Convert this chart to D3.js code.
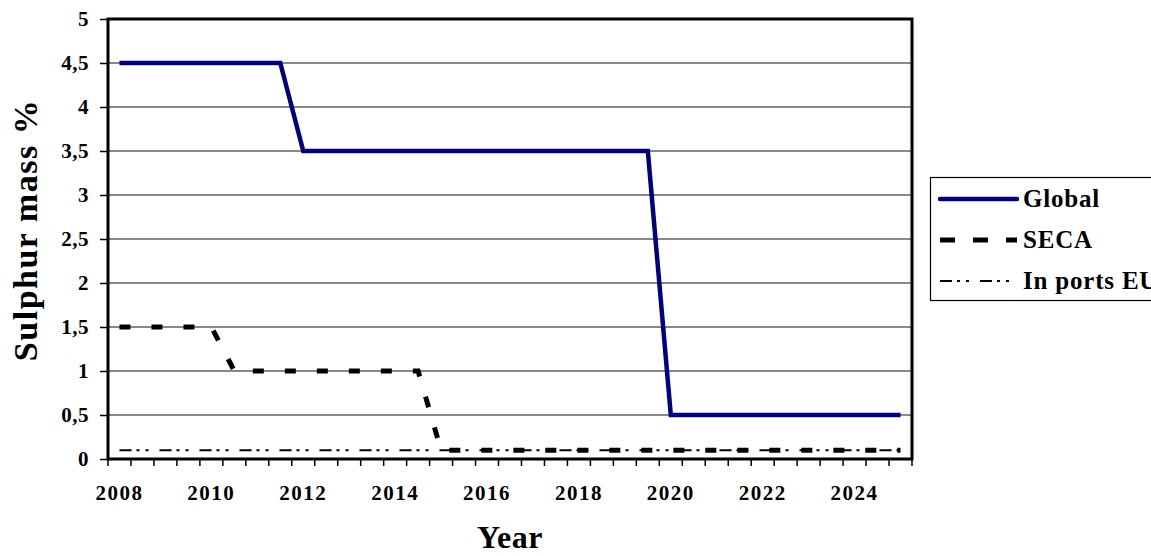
<!DOCTYPE html>
<html>
<head>
<meta charset="utf-8">
<script src="https://cdn.jsdelivr.net/npm/d3@7"></script>
<style>
  html, body { margin: 0; padding: 0; background: #fff; }
  svg { display: block; font-family: 'Liberation Serif', 'Times New Roman', serif; font-weight: bold; }
</style>
</head>
<body>
<div id="main"></div>
<script>
!(function () {
  'use strict';

  // data: half-year categories
  const years = [
    2008, 2008.5, 2009, 2009.5, 2010, 2010.5, 2011, 2011.5, 2012, 2012.5,
    2013, 2013.5, 2014, 2014.5, 2015, 2015.5, 2016, 2016.5, 2017, 2017.5,
    2018, 2018.5, 2019, 2019.5, 2020, 2020.5, 2021, 2021.5, 2022, 2022.5,
    2023, 2023.5, 2024, 2024.5, 2025
  ];
  const globalLimit = [
    4.5, 4.5, 4.5, 4.5, 4.5, 4.5, 4.5, 4.5, 3.5, 3.5,
    3.5, 3.5, 3.5, 3.5, 3.5, 3.5, 3.5, 3.5, 3.5, 3.5,
    3.5, 3.5, 3.5, 3.5, 0.5, 0.5, 0.5, 0.5, 0.5, 0.5,
    0.5, 0.5, 0.5, 0.5, 0.5
  ];
  const secaLimit = [
    1.5, 1.5, 1.5, 1.5, 1.5, 1, 1, 1, 1, 1,
    1, 1, 1, 1, 0.1, 0.1, 0.1, 0.1, 0.1, 0.1,
    0.1, 0.1, 0.1, 0.1, 0.1, 0.1, 0.1, 0.1, 0.1, 0.1,
    0.1, 0.1, 0.1, 0.1, 0.1
  ];
  const portsEuLimit = [
    0.1, 0.1, 0.1, 0.1, 0.1, 0.1, 0.1, 0.1, 0.1, 0.1,
    0.1, 0.1, 0.1, 0.1, 0.1, 0.1, 0.1, 0.1, 0.1, 0.1,
    0.1, 0.1, 0.1, 0.1, 0.1, 0.1, 0.1, 0.1, 0.1, 0.1,
    0.1, 0.1, 0.1, 0.1, 0.1
  ];
  const xTickLabels = [2008, 2010, 2012, 2014, 2016, 2018, 2020, 2022, 2024];
  const yTicks = [0, 0.5, 1, 1.5, 2, 2.5, 3, 3.5, 4, 4.5, 5];

  const series = [
    { name: 'Global', values: globalLimit, color: '#000080', width: 4.5, dash: null },
    { name: 'SECA', values: secaLimit, color: '#000', width: 5, dash: '11,21' },
    { name: 'In ports EU', values: portsEuLimit, color: '#000', width: 2, dash: '12,5,3,6,3,11' }
  ];

  // configuration
  const canvas = {
    width: 1151,
    height: 556,
    plot: { left: 108, right: 912, top: 19, bottom: 459 }
  };
  const p = canvas.plot;

  const svg = d3.select('#main').append('svg')
    .attr('width', canvas.width)
    .attr('height', canvas.height);

  const xScale = d3.scaleBand()
    .domain(years)
    .range([p.left, p.right])
    .padding(0);
  const yScale = d3.scaleLinear()
    .domain([0, 5])
    .range([p.bottom, p.top]);
  const xc = d => xScale(d) + xScale.bandwidth() / 2;
  const fmt = v => String(v).replace('.', ',');

  // gridlines
  svg.append('g')
    .selectAll('line')
    .data(yTicks.filter(v => v > 0 && v < 5))
    .join('line')
    .attr('x1', p.left).attr('x2', p.right)
    .attr('y1', d => yScale(d)).attr('y2', d => yScale(d))
    .attr('stroke', '#111').attr('stroke-width', 1);

  // y axis
  const yAxis = svg.append('g')
    .attr('transform', 'translate(' + p.left + ',0)')
    .call(d3.axisLeft(yScale).tickValues(yTicks).tickSize(8).tickPadding(11).tickFormat(fmt));
  yAxis.select('.domain').remove();
  yAxis.selectAll('line').attr('stroke', '#000').attr('stroke-width', 1.5);
  yAxis.selectAll('text')
    .attr('font-family', "'Liberation Serif', serif")
    .attr('font-weight', 'bold')
    .attr('font-size', 21)
    .attr('letter-spacing', 0.5)
    .attr('fill', '#000');

  // x axis ticks at category boundaries
  const boundaries = years.map(d => xScale(d)).concat([p.right]);
  svg.append('g')
    .selectAll('line')
    .data(boundaries)
    .join('line')
    .attr('x1', d => d).attr('x2', d => d)
    .attr('y1', p.bottom).attr('y2', p.bottom + 7)
    .attr('stroke', '#000').attr('stroke-width', 1.5);
  svg.append('g')
    .selectAll('text')
    .data(xTickLabels)
    .join('text')
    .attr('x', d => xc(d))
    .attr('y', 500)
    .attr('text-anchor', 'middle')
    .attr('font-size', 21)
    .attr('letter-spacing', 1.5)
    .text(d => d);

  // lines
  const line = vals => d3.line()
    .x((v, i) => xc(years[i]))
    .y(v => yScale(v))(vals);

  series.slice().reverse().forEach(s => {
    svg.append('path')
      .attr('d', line(s.values))
      .attr('fill', 'none')
      .attr('stroke', s.color)
      .attr('stroke-width', s.width)
      .attr('stroke-dasharray', s.dash)
      .attr('stroke-linejoin', 'miter');
  });

  // frame
  svg.append('rect')
    .attr('x', p.left).attr('y', p.top)
    .attr('width', p.right - p.left).attr('height', p.bottom - p.top)
    .attr('fill', 'none').attr('stroke', '#000').attr('stroke-width', 3);

  // axis titles
  svg.append('text')
    .attr('transform', 'translate(37,230) rotate(-90)')
    .attr('text-anchor', 'middle')
    .attr('font-size', 34)
    .attr('letter-spacing', 1.5)
    .text('Sulphur mass %');
  svg.append('text')
    .attr('x', (p.left + p.right) / 2)
    .attr('y', 548)
    .attr('text-anchor', 'middle')
    .attr('font-size', 32)
    .attr('letter-spacing', 0.5)
    .text('Year');

  // legend
  const legend = svg.append('g').attr('transform', 'translate(930,177)');
  legend.append('rect')
    .attr('x', 0.5).attr('y', 0.5)
    .attr('width', 240).attr('height', 123)
    .attr('fill', '#fff').attr('stroke', '#000').attr('stroke-width', 1.2);
  const item = legend.selectAll('g.item')
    .data(series)
    .join('g')
    .attr('class', 'item')
    .attr('transform', (d, i) => 'translate(0,' + (22 + i * 41) + ')');
  item.append('line')
    .attr('x1', 10).attr('x2', 87)
    .attr('stroke', d => d.color)
    .attr('stroke-width', d => d.width)
    .attr('stroke-dasharray', (d, i) => i === 1 ? '15,18' : d.dash)
    .attr('stroke-linecap', (d, i) => i === 0 ? 'round' : 'butt');
  item.append('text')
    .attr('x', 93)
    .attr('y', 8)
    .attr('font-size', 25)
    .attr('letter-spacing', 0.8)
    .text(d => d.name);
})();
</script>
</body>
</html>
